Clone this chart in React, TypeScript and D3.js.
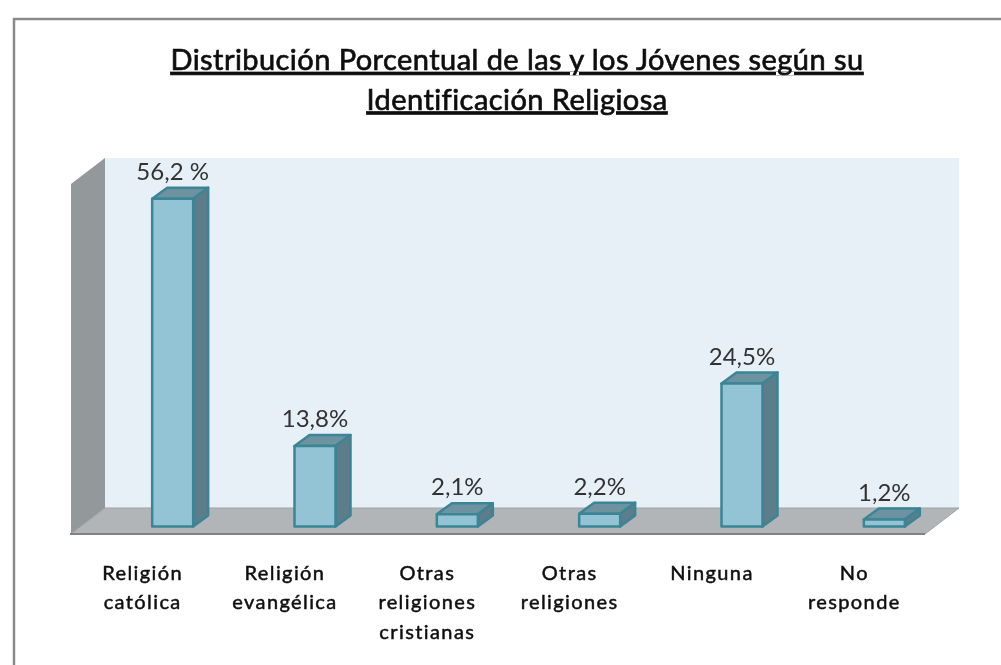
import React from "react"
import * as d3 from "d3"

const categories = ["Religión católica", "Religión evangélica", "Otras religiones cristianas", "Otras religiones", "Ninguna", "No responde"]
const categoryLines = [["Religión", "católica"], ["Religión", "evangélica"], ["Otras", "religiones", "cristianas"], ["Otras", "religiones"], ["Ninguna"], ["No", "responde"]]
const values = [56.2, 13.8, 2.1, 2.2, 24.5, 1.2]
const valueLabels = ["56,2 %", "13,8%", "2,1%", "2,2%", "24,5%", "1,2%"]
const titleLines = ["Distribución Porcentual de las y los Jóvenes según su", "Identificación Religiosa"]

const WIDTH = 1001
const HEIGHT = 665
const FONT = "Lato, 'Open Sans', sans-serif"
const FLOOR = { left: 71, right: 925, front: 534 }
const DEPTH = { x: 34, y: 26 }
const WALL_TOP = 158
const BAR = { width: 41, dx: 15, dy: 11, shift: 30.5, lift: 7.5 }

const x = d3.scaleBand<string>().domain(categories).range([FLOOR.left, FLOOR.right])
const y = d3.scaleLinear().domain([0, 60]).range([FLOOR.front - BAR.lift, FLOOR.front - BAR.lift - 350])

const pts = (p: number[][]) => p.map((d) => d.join(",")).join(" ")

export default function App() {
  const backLeft = FLOOR.left + DEPTH.x
  const backRight = FLOOR.right + DEPTH.x
  const backBase = FLOOR.front - DEPTH.y
  return (
    <svg
      width={WIDTH}
      height={HEIGHT}
      style={{ position: "absolute", left: 0, top: 0, display: "block", background: "#fff" }}
    >
      <defs>
        <filter id="soft" x="-2%" y="-2%" width="104%" height="104%">
          <feGaussianBlur stdDeviation="0.5" />
        </filter>
      </defs>
      <g filter="url(#soft)">
        {/* Frame */}
        <rect x={14} y={19} width={WIDTH} height={HEIGHT} fill="#fff" stroke="#8a8a8a" strokeWidth={2.5} />

        {/* Title */}
        {titleLines.map((t, i) => (
          <text key={t} x={517} y={70 + i * 39.5} textAnchor="middle" fontFamily={FONT} fontSize={29} letterSpacing={0.44} fill="#111" stroke="#111" strokeWidth={0.7} textDecoration="underline">
            {t}
          </text>
        ))}

        {/* Walls and floor */}
        <rect x={backLeft} y={WALL_TOP} width={backRight - backLeft} height={backBase - WALL_TOP} fill="#e8f0f7" />
        <polygon points={pts([[FLOOR.left, WALL_TOP + DEPTH.y], [backLeft, WALL_TOP], [backLeft, backBase], [FLOOR.left, FLOOR.front]])} fill="#93989a" />
        <polygon points={pts([[FLOOR.left, FLOOR.front], [backLeft, backBase], [backRight, backBase], [FLOOR.right, FLOOR.front]])} fill="#b1b5b8" stroke="#a0a3a5" strokeWidth={1} />
        <line x1={FLOOR.left - 1} x2={FLOOR.right} y1={FLOOR.front} y2={FLOOR.front} stroke="#808385" strokeWidth={2} />

        {/* Bars */}
        {categories.map((c, i) => {
          const x0 = (x(c) as number) + x.bandwidth() / 2 + BAR.shift - BAR.width / 2
          const x1 = x0 + BAR.width
          const top = y(values[i])
          const base = y(0)
          const { dx, dy } = BAR
          return (
            <g key={c} stroke="#3a8597" strokeWidth={2.5} strokeLinejoin="round">
              <polygon points={pts([[x0, top], [x0 + dx, top - dy], [x1 + dx, top - dy], [x1, top]])} fill="#6c939f" />
              <polygon points={pts([[x1, top], [x1 + dx, top - dy], [x1 + dx, base - dy], [x1, base]])} fill="#5b7d89" />
              <rect x={x0} y={top} width={BAR.width} height={base - top} fill="#93c4d6" />
              <text x={x0 + BAR.width / 2} y={top - dy - 8} textAnchor="middle" fontFamily={FONT} fontSize={24} fill="#333" stroke="none">
                {valueLabels[i]}
              </text>
            </g>
          )
        })}

        {/* Category labels */}
        {categories.map((c, i) => (
          <text key={c} textAnchor="middle" fontFamily={FONT} fontSize={20} letterSpacing={1.4} fill="#111" stroke="#111" strokeWidth={0.5}>
            {categoryLines[i].map((line, j) => (
              <tspan key={line} x={(x(c) as number) + x.bandwidth() / 2 + 0.5} y={579.5 + j * 29.5}>
                {line}
              </tspan>
            ))}
          </text>
        ))}
      </g>
    </svg>
  )
}
